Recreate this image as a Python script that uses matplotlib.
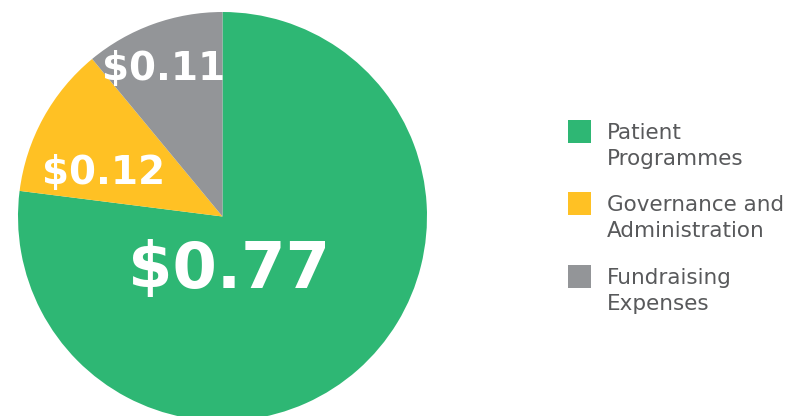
import matplotlib
matplotlib.use("Agg")
import matplotlib.pyplot as plt
from matplotlib.patches import Rectangle

categories = ["Patient\nProgrammes", "Governance and\nAdministration", "Fundraising\nExpenses"]
values = [0.77, 0.12, 0.11]
value_labels = ["$0.77", "$0.12", "$0.11"]
colors = ["#2EB774", "#FFC124", "#939598"]

W, H = 802, 416
fig = plt.figure(figsize=(W / 100, H / 100), dpi=100)
fig.patch.set_facecolor("white")

# pie axes: center (222.5, 216.5) px from top, radius 204.5 px
cx, cy, r = 222.5, 216.5, 204.5
ax = fig.add_axes([(cx - r) / W, (H - cy - r) / H, 2 * r / W, 2 * r / H])
ax.pie(values, colors=colors, startangle=90, counterclock=False, radius=1,
       wedgeprops=dict(linewidth=0), frame=False)
ax.set_xlim(-1, 1)
ax.set_ylim(-1, 1)
ax.set_aspect("equal")
ax.axis("off")

def px2d(x, y):
    return (x - cx) / r, (cy - y) / r

label_pos = [(229, 288), (104, 184), (164, 80)]
label_sizes = [46, 28, 28]
for lab, (px, py), fs in zip(value_labels, label_pos, label_sizes):
    dx, dy = px2d(px, py)
    ax.text(dx, dy, lab, ha="center", va="baseline", color="white",
            fontsize=fs, fontweight="bold", family="DejaVu Sans")

# legend
sq_top = [120, 192, 265]
for cat, col, top in zip(categories, colors, sq_top):
    fig.add_artist(Rectangle((568 / W, (H - top - 23) / H), 23 / W, 23 / H,
                             transform=fig.transFigure, facecolor=col, edgecolor="none"))
    fig.text(607 / W, (H - top - 45) / H, cat, ha="left", va="baseline",
             fontsize=15.5, color="#58595B", family="DejaVu Sans", linespacing=1.4)

fig.savefig("out.png", dpi=100, facecolor="white")
